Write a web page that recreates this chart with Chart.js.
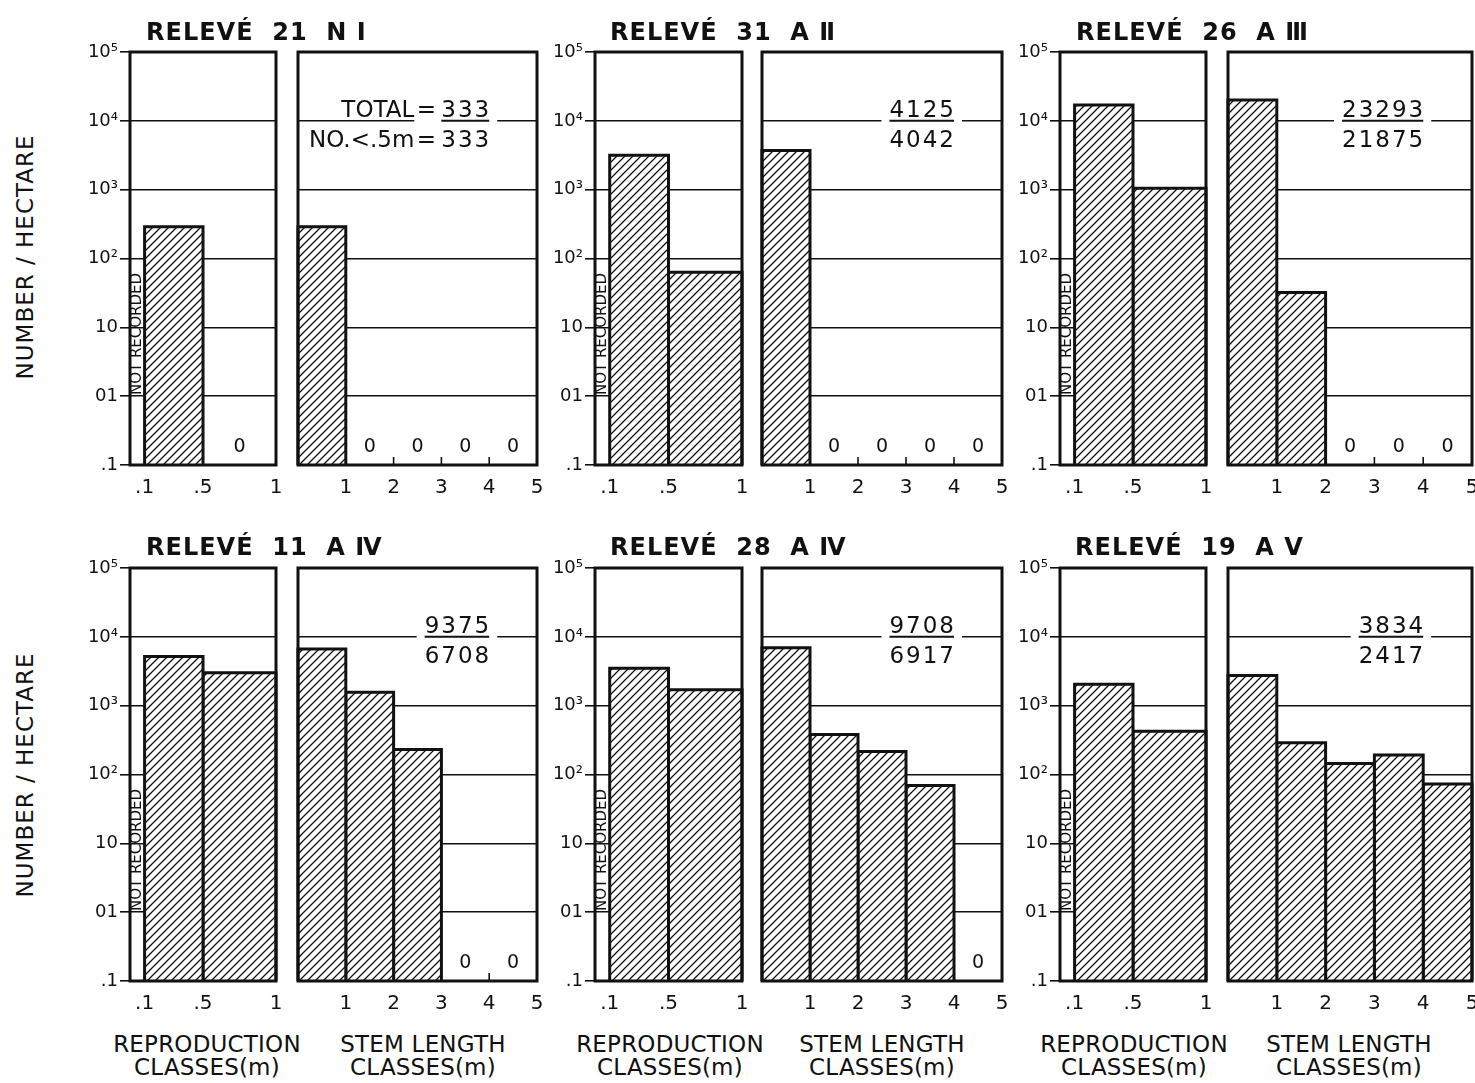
<!DOCTYPE html>
<html>
<head>
<meta charset="utf-8">
<script src="https://cdn.jsdelivr.net/npm/chart.js@4/dist/chart.umd.min.js"></script>
<style>
  html, body { margin: 0; padding: 0; background: #fff; overflow: hidden; }
  body { width: 1475px; height: 1083px; position: relative; font-family: "DejaVu Sans", sans-serif; color: #111; }
  canvas { position: absolute; }
  .title { position: absolute; font-weight: bold; font-size: 24px; line-height: 24px; letter-spacing: 1px; white-space: pre; }
  .xlab { position: absolute; width: 260px; text-align: center; font-size: 23px; line-height: 23px; letter-spacing: 0.2px; }
  .ylab { position: absolute; width: 300px; height: 30px; line-height: 30px; text-align: center; font-size: 23px; letter-spacing: 1px; transform: rotate(-90deg); }
</style>
</head>
<body>
<script>
// stems per hectare
const releves = ["RELEVÉ  21  N Ⅰ", "RELEVÉ  31  A Ⅱ", "RELEVÉ  26  A Ⅲ",
                 "RELEVÉ  11  A Ⅳ", "RELEVÉ  28  A Ⅳ", "RELEVÉ  19  A Ⅴ"];
const reproEdges = [0.1, 0.5, 1];
const stemEdges = [0, 1, 2, 3, 4, 5];
// reproduction classes .1-.5, .5-1 (0 = none found)
const reproCounts = [
  [290, 0],
  [3150, 63],
  [17000, 1050],
  [5200, 3000],
  [3500, 1700],
  [2040, 425]
];
// stem length classes 0-1, 1-2, 2-3, 3-4, 4-5
const stemCounts = [
  [290, 0, 0, 0, 0],
  [3700, 0, 0, 0, 0],
  [20000, 32, 0, 0, 0],
  [6650, 1570, 230, 0, 0],
  [6950, 380, 215, 69, 0],
  [2750, 290, 144, 192, 73]
];
const totalStems = ["333", "4125", "23293", "9375", "9708", "3834"];
const stemsUnderHalfMetre = ["333", "4042", "21875", "6708", "6917", "2417"];

const yTicks = [0.1, 1, 10, 100, 1000, 10000, 100000];
const yTickLabels = [".1", "01", "10", "10²", "10³", "10⁴", "10⁵"];
const reproTicks = [0.1, 0.5, 1];
const reproTickLabels = [".1", ".5", "1"];
const stemTicks = [1, 2, 3, 4, 5];
const stemTickLabels = ["1", "2", "3", "4", "5"];

// page layout (chart-area edges in px)
const groupX = [[130, 276, 298, 537], [595, 742, 762, 1002], [1060, 1206, 1228, 1472]];
const rowY = [[52, 465], [568, 981]];
const titlePos = [[146, 20], [610, 20], [1076, 20], [146, 535], [610, 535], [1075, 535]];
const labelCenters = [[207, 423], [670, 882], [1134, 1349]];
const ink = "#111";

Chart.defaults.font.family = '"DejaVu Sans", sans-serif';
Chart.defaults.color = ink;

function hatch() {
  const c = document.createElement("canvas");
  c.width = c.height = 8;
  const g = c.getContext("2d");
  g.fillStyle = "#fff";
  g.fillRect(0, 0, 8, 8);
  g.strokeStyle = ink;
  g.lineWidth = 1.3;
  g.beginPath();
  g.moveTo(-1, 9); g.lineTo(9, -1);
  g.moveTo(-1, 1); g.lineTo(1, -1);
  g.moveTo(7, 9); g.lineTo(9, 7);
  g.stroke();
  return g.createPattern(c, "repeat");
}
const hatchFill = hatch();

function drawFraction(ctx, xr, yl, num, den, withWords) {
  ctx.save();
  ctx.font = '23px "DejaVu Sans"';
  ctx.letterSpacing = "2px";
  const w = Math.max(ctx.measureText(num).width, ctx.measureText(den).width) - 2;
  const x0 = xr - w;
  const gapL = withWords ? x0 - 27 : x0 - 8;
  ctx.fillStyle = "#fff";
  ctx.fillRect(gapL, yl - 3, xr + 8 - gapL, 6);
  ctx.strokeStyle = ink;
  ctx.lineWidth = 2;
  ctx.beginPath(); ctx.moveTo(x0, yl); ctx.lineTo(xr, yl); ctx.stroke();
  ctx.fillStyle = ink;
  ctx.textBaseline = "alphabetic";
  ctx.textAlign = "right";
  ctx.fillText(num, xr + 2, yl - 4);
  ctx.fillText(den, xr + 2, yl + 26);
  if (withWords) {
    ctx.letterSpacing = "0px";
    ctx.textAlign = "center";
    ctx.fillText("=", x0 - 15, yl - 4);
    ctx.fillText("=", x0 - 15, yl + 26);
    ctx.textAlign = "right";
    ctx.fillText("TOTAL", x0 - 27, yl - 4);
    ctx.fillText("NO.<.5m", x0 - 27, yl + 26);
  }
  ctx.restore();
}

function makeDecor(g, isRepro, edges, counts) {
  return {
    id: "decor" + g + (isRepro ? "r" : "s"),
    beforeDatasetsDraw(chart) {
      if (isRepro) return;
      const { ctx, chartArea: a, scales: { x } } = chart;
      ctx.save();
      ctx.strokeStyle = ink;
      ctx.lineWidth = 1.6;
      [1, 2, 3, 4].forEach(v => {
        const px = x.getPixelForValue(v);
        ctx.beginPath(); ctx.moveTo(px, a.bottom); ctx.lineTo(px, a.bottom - 8); ctx.stroke();
      });
      ctx.restore();
    },
    afterDatasetsDraw(chart) {
      const { ctx, chartArea: a, scales: { x, y } } = chart;
      ctx.save();
      ctx.fillStyle = ink;
      ctx.font = '19px "DejaVu Sans"';
      ctx.textAlign = "center";
      ctx.textBaseline = "middle";
      counts.forEach((v, i) => {
        if (v === 0) ctx.fillText("0", x.getPixelForValue((edges[i] + edges[i + 1]) / 2), a.bottom - 18);
      });
      if (isRepro) {
        ctx.save();
        ctx.translate(x.getPixelForValue(edges[0] / 2), y.getPixelForValue(8));
        ctx.rotate(-Math.PI / 2);
        ctx.font = '15px "DejaVu Sans"';
        ctx.fillText("NOT RECORDED", 0, 0);
        ctx.restore();
      } else {
        drawFraction(ctx, x.getPixelForValue(4), y.getPixelForValue(10000),
                     totalStems[g], stemsUnderHalfMetre[g], g === 0);
      }
      ctx.strokeStyle = ink;
      ctx.lineWidth = 3;
      ctx.strokeRect(a.left, a.top, a.right - a.left, a.bottom - a.top);
      ctx.restore();
    }
  };
}

function makePanel(g, isRepro) {
  const row = Math.floor(g / 3), col = g % 3;
  const [l1, r1, l2, r2] = groupX[col];
  const [top, bottom] = rowY[row];
  const left = isRepro ? l1 : l2, right = isRepro ? r1 : r2;
  const axisW = isRepro ? 60 : 0;
  const padL = isRepro ? 0 : 4;
  const padR = Math.min(8, 1475 - right);
  const padT = 14, axisH = 42;

  const cv = document.createElement("canvas");
  cv.width = right - left + axisW + padL + padR;
  cv.height = bottom - top + padT + axisH;
  cv.style.left = (left - axisW - padL) + "px";
  cv.style.top = (top - padT) + "px";
  document.body.appendChild(cv);

  const edges = isRepro ? reproEdges : stemEdges;
  const counts = isRepro ? reproCounts[g] : stemCounts[g];
  const xTicks = isRepro ? reproTicks : stemTicks;
  const xLabels = isRepro ? reproTickLabels : stemTickLabels;
  const yMin = yTicks[0], yMax = yTicks[yTicks.length - 1];

  const datasets = [];
  counts.forEach((v, i) => {
    if (!v) return;
    const x0 = edges[i], x1 = edges[i + 1];
    datasets.push({
      data: [{ x: x0, y: yMin }, { x: x0, y: v }, { x: x1, y: v }, { x: x1, y: yMin }],
      borderColor: ink,
      borderWidth: 3,
      borderJoinStyle: "miter",
      backgroundColor: hatchFill,
      fill: "start",
      tension: 0,
      pointRadius: 0,
      clip: false
    });
  });

  new Chart(cv, {
    type: "line",
    data: { datasets },
    options: {
      responsive: false,
      animation: false,
      devicePixelRatio: 1,
      layout: { padding: { left: padL, right: padR, top: padT, bottom: 0 } },
      plugins: { legend: { display: false }, tooltip: { enabled: false } },
      scales: {
        x: {
          type: "linear",
          min: 0,
          max: edges[edges.length - 1],
          grid: { display: false, drawTicks: false },
          border: { display: false },
          ticks: { font: { size: 20 }, padding: 11, autoSkip: false, maxRotation: 0,
                   callback: (v, i) => xLabels[i] },
          afterBuildTicks: s => { s.ticks = xTicks.map(v => ({ value: v })); },
          afterFit: s => { s.height = axisH; s.paddingLeft = 0; s.paddingRight = 0; }
        },
        y: {
          type: "logarithmic",
          min: yMin,
          max: yMax,
          border: { display: false },
          grid: { color: ink, lineWidth: 1.6, drawTicks: isRepro, tickLength: 10, tickColor: ink },
          ticks: { display: isRepro, font: { size: 18 }, padding: 2, autoSkip: false,
                   callback: (v, i) => yTickLabels[i] },
          afterBuildTicks: s => { s.ticks = yTicks.map(v => ({ value: v })); },
          afterFit: s => { s.width = axisW; s.paddingTop = 0; s.paddingBottom = 0; }
        }
      }
    },
    plugins: [makeDecor(g, isRepro, edges, counts)]
  });
}

function addDiv(cls, text, x, y) {
  const d = document.createElement("div");
  d.className = cls;
  d.innerHTML = text;
  d.style.left = x + "px";
  d.style.top = y + "px";
  document.body.appendChild(d);
}

releves.forEach((t, g) => {
  makePanel(g, true);
  makePanel(g, false);
  addDiv("title", t, titlePos[g][0], titlePos[g][1]);
});
labelCenters.forEach(([c1, c2]) => {
  addDiv("xlab", "REPRODUCTION<br>CLASSES(m)", c1 - 130, 1033);
  addDiv("xlab", "STEM LENGTH<br>CLASSES(m)", c2 - 130, 1033);
});
addDiv("ylab", "NUMBER / HECTARE", 25 - 150, 257 - 15);
addDiv("ylab", "NUMBER / HECTARE", 25 - 150, 775 - 15);
</script>
</body>
</html>
